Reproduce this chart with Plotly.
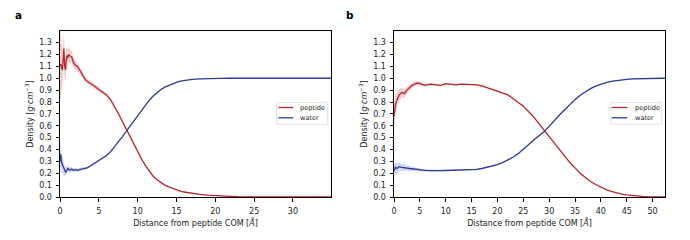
import numpy as np
import plotly.graph_objects as go
from plotly.subplots import make_subplots

# ---------- Panel a data ----------
xa = [0.0, 0.1, 0.2, 0.3, 0.4, 0.5, 0.6, 0.7, 0.8, 0.9, 1.0, 1.1, 1.25, 1.5, 1.75, 2.0, 2.25, 2.5, 2.75,
      3.0, 3.25, 3.5, 4.0, 4.5, 5.0, 5.5, 6.0, 6.5, 7.0, 7.5, 8.0, 8.5, 9.0, 9.5, 10.0, 10.5, 11.0, 11.5,
      12.0, 12.5, 13.0, 13.5, 14.0, 14.5, 15.0, 15.5, 16.0, 17.0, 18.0, 19.0, 20.0, 21.0, 22.0, 23.0,
      24.0, 25.0, 26.0, 27.0, 28.0, 29.0, 30.0, 31.0, 32.0, 33.0, 34.0, 35.0]
pep_a = [1.10, 1.12, 1.09, 1.07, 1.15, 1.25, 1.10, 1.07, 1.15, 1.19, 1.17, 1.20, 1.19, 1.18, 1.13, 1.11,
         1.10, 1.07, 1.04, 1.02, 0.99, 0.975, 0.955, 0.93, 0.905, 0.885, 0.86, 0.82, 0.765, 0.705, 0.64,
         0.575, 0.51, 0.445, 0.38, 0.32, 0.265, 0.215, 0.175, 0.145, 0.12, 0.10, 0.085, 0.072, 0.06, 0.05,
         0.042, 0.03, 0.022, 0.015, 0.010, 0.007, 0.005, 0.003, 0.002, 0.001, 0.001, 0.0, 0.0, 0.0, 0.0,
         0.0, 0.0, 0.0, 0.0, 0.0]
pep_a_err = [0.30, 0.26, 0.22, 0.18, 0.15, 0.13, 0.11, 0.10, 0.09, 0.08, 0.07, 0.065, 0.06, 0.05, 0.045,
             0.04, 0.035, 0.03, 0.028, 0.025, 0.022, 0.02, 0.02, 0.018, 0.016, 0.015, 0.014, 0.013, 0.012,
             0.011, 0.01, 0.01, 0.009, 0.008, 0.008, 0.007, 0.006, 0.005, 0.005, 0.004, 0.004, 0.003,
             0.003, 0.003, 0.002, 0.002, 0.002, 0.002, 0.001, 0.001, 0.001, 0.001, 0.001, 0.0, 0.0, 0.0,
             0.0, 0.0, 0.0, 0.0, 0.0, 0.0, 0.0, 0.0, 0.0, 0.0]
wat_a = [0.30, 0.36, 0.29, 0.27, 0.26, 0.235, 0.22, 0.21, 0.215, 0.23, 0.24, 0.235, 0.225, 0.235, 0.225,
         0.23, 0.225, 0.23, 0.235, 0.24, 0.24, 0.245, 0.265, 0.285, 0.305, 0.325, 0.35, 0.38, 0.42, 0.465,
         0.505, 0.55, 0.595, 0.64, 0.685, 0.73, 0.775, 0.815, 0.85, 0.88, 0.905, 0.925, 0.94, 0.955, 0.965,
         0.975, 0.982, 0.99, 0.995, 0.998, 1.0, 1.0, 1.001, 1.0, 1.0, 1.002, 1.0, 1.0, 1.001, 1.0, 1.0,
         1.001, 1.0, 1.0, 1.0, 1.0]
wat_a_err = [0.10, 0.09, 0.08, 0.07, 0.06, 0.05, 0.045, 0.04, 0.035, 0.03, 0.028, 0.025, 0.022, 0.02,
             0.018, 0.016, 0.015, 0.014, 0.013, 0.012, 0.011, 0.01, 0.01, 0.009, 0.009, 0.008, 0.008,
             0.008, 0.007, 0.007, 0.007, 0.006, 0.006, 0.006, 0.005, 0.005, 0.005, 0.005, 0.004, 0.004,
             0.004, 0.004, 0.004, 0.004, 0.004, 0.004, 0.004, 0.004, 0.004, 0.004, 0.004, 0.004, 0.004,
             0.004, 0.004, 0.004, 0.004, 0.004, 0.004, 0.004, 0.004, 0.004, 0.004, 0.004, 0.004, 0.004]

# ---------- Panel b data ----------
xb = [0.0, 0.3, 0.6, 1.0, 1.5, 2.0, 2.5, 3.0, 3.5, 4.0, 4.5, 5.0, 6.0, 7.0, 8.0, 9.0, 10.0, 11.0, 12.0,
      13.0, 14.0, 15.0, 16.0, 17.0, 18.0, 19.0, 20.0, 21.0, 22.0, 23.0, 24.0, 25.0, 26.0, 27.0, 28.0,
      29.0, 30.0, 31.0, 32.0, 33.0, 34.0, 35.0, 36.0, 37.0, 38.0, 39.0, 40.0, 41.0, 42.0, 43.0, 44.0,
      45.0, 46.0, 47.0, 48.0, 49.0, 50.0, 51.0, 52.0, 52.4]
pep_b = [0.68, 0.78, 0.82, 0.86, 0.88, 0.87, 0.90, 0.92, 0.94, 0.95, 0.96, 0.955, 0.94, 0.95, 0.945,
         0.94, 0.955, 0.95, 0.945, 0.95, 0.95, 0.95, 0.945, 0.935, 0.92, 0.91, 0.895, 0.88, 0.86, 0.83,
         0.80, 0.765, 0.72, 0.675, 0.62, 0.565, 0.51, 0.45, 0.39, 0.34, 0.29, 0.245, 0.20, 0.165, 0.13,
         0.105, 0.08, 0.062, 0.047, 0.035, 0.025, 0.018, 0.012, 0.008, 0.005, 0.003, 0.002, 0.001, 0.0,
         0.0]
pep_b_err = [0.10, 0.08, 0.06, 0.05, 0.04, 0.035, 0.03, 0.025, 0.022, 0.02, 0.018, 0.016, 0.012, 0.01,
             0.009, 0.008, 0.007, 0.007, 0.006, 0.006, 0.006, 0.006, 0.006, 0.006, 0.006, 0.006, 0.006,
             0.006, 0.006, 0.006, 0.006, 0.006, 0.006, 0.006, 0.006, 0.006, 0.006, 0.006, 0.005, 0.005,
             0.005, 0.005, 0.004, 0.004, 0.004, 0.003, 0.003, 0.003, 0.002, 0.002, 0.002, 0.001, 0.001,
             0.001, 0.001, 0.0, 0.0, 0.0, 0.0, 0.0]
wat_b = [0.22, 0.25, 0.24, 0.255, 0.25, 0.245, 0.245, 0.24, 0.238, 0.235, 0.23, 0.225, 0.225, 0.222,
         0.22, 0.222, 0.223, 0.225, 0.226, 0.227, 0.228, 0.229, 0.232, 0.24, 0.25, 0.26, 0.272, 0.29, 0.31,
         0.335, 0.365, 0.40, 0.44, 0.48, 0.515, 0.55, 0.595, 0.645, 0.69, 0.735, 0.78, 0.82, 0.857, 0.888,
         0.913, 0.934, 0.951, 0.964, 0.974, 0.981, 0.987, 0.991, 0.994, 0.996, 0.998, 0.999, 1.0, 1.0,
         1.0, 1.0]
wat_b_err = [0.05, 0.045, 0.04, 0.035, 0.03, 0.027, 0.024, 0.02, 0.018, 0.016, 0.014, 0.012, 0.01, 0.009,
             0.008, 0.007, 0.006, 0.006, 0.005, 0.005, 0.005, 0.005, 0.005, 0.005, 0.005, 0.005, 0.005,
             0.005, 0.005, 0.005, 0.005, 0.005, 0.005, 0.005, 0.005, 0.005, 0.005, 0.005, 0.005, 0.005,
             0.005, 0.005, 0.004, 0.004, 0.004, 0.004, 0.004, 0.004, 0.004, 0.004, 0.004, 0.004, 0.004,
             0.004, 0.004, 0.004, 0.004, 0.004, 0.004, 0.004]

y_ticks = [0.0, 0.1, 0.2, 0.3, 0.4, 0.5, 0.6, 0.7, 0.8, 0.9, 1.0, 1.1, 1.2, 1.3]
xa_ticks = [0, 5, 10, 15, 20, 25, 30]
xb_ticks = [0, 5, 10, 15, 20, 25, 30, 35, 40, 45, 50]
series_names = ["peptide", "water"]

PEP = "#b5282e"
WAT = "#2f3d92"
PEP_FILL = "rgba(200,60,60,0.25)"
WAT_FILL = "rgba(70,90,190,0.25)"
FONT = "DejaVu Sans"
TXT = "#222222"

W, H = 690, 240
PL, PR, PT, PB = 60, 665, 31, 197   # plot-area edges in page pixels


def paper(px, py):
    return (px - PL) / (PR - PL), (PB - py) / (PB - PT)


fig = make_subplots(rows=1, cols=2, horizontal_spacing=(394 - 331) / (PR - PL))


def add_series(x, y, e, col, color, fill, name):
    x = np.asarray(x); y = np.asarray(y); e = np.asarray(e)
    fig.add_trace(go.Scatter(x=np.concatenate([x, x[::-1]]),
                             y=np.concatenate([y + e, (y - e)[::-1]]),
                             fill="toself", fillcolor=fill, line=dict(width=0),
                             mode="lines", hoverinfo="skip", showlegend=False),
                  row=1, col=col)
    fig.add_trace(go.Scatter(x=x, y=y, mode="lines", name=name, showlegend=False,
                             line=dict(color=color, width=1.3)),
                  row=1, col=col)


add_series(xa, pep_a, pep_a_err, 1, PEP, PEP_FILL, series_names[0])
add_series(xa, wat_a, wat_a_err, 1, WAT, WAT_FILL, series_names[1])
add_series(xb, pep_b, pep_b_err, 2, PEP, PEP_FILL, series_names[0])
add_series(xb, wat_b, wat_b_err, 2, WAT, WAT_FILL, series_names[1])

axis_common = dict(showline=True, linecolor="black", linewidth=1, mirror=True,
                   ticks="outside", ticklen=3.5, tickwidth=0.8, tickcolor="black",
                   showgrid=False, zeroline=False,
                   tickfont=dict(family=FONT, size=8, color=TXT))

xtitle = "Distance from peptide COM [<i>Å</i>]"
ytitle = "Density [<i>g</i>·<i>cm</i><sup>−3</sup>]"
tfont = dict(family=FONT, size=8, color=TXT)

fig.update_xaxes(**axis_common)
fig.update_yaxes(**axis_common)
fig.update_xaxes(range=[0, 34.9], tickvals=xa_ticks, row=1, col=1, ticklabelstandoff=3,
                 title=dict(text=xtitle, font=tfont, standoff=5))
fig.update_xaxes(range=[0, 52.4], tickvals=xb_ticks, row=1, col=2, ticklabelstandoff=3,
                 title=dict(text=xtitle, font=tfont, standoff=5))
for c in (1, 2):
    fig.update_yaxes(range=[0, 1.398], tickvals=y_ticks, tickformat=".1f", row=1, col=c,
                     ticklabelstandoff=2,
                     title=dict(text=ytitle, font=tfont, standoff=4))

fig.update_layout(
    width=W, height=H,
    margin=dict(l=PL, r=W - PR, t=PT, b=H - PB),
    plot_bgcolor="white", paper_bgcolor="white",
    font=dict(family=FONT, size=8, color=TXT),
    showlegend=False,
)

# panel labels
for lab, px, py in (("a", 18.5, 14.5), ("b", 350, 15)):
    x, y = paper(px, py)
    fig.add_annotation(text="<b>%s</b>" % lab, x=x, y=y, xref="paper", yref="paper",
                       showarrow=False, font=dict(family=FONT, size=10.5, color="black"),
                       xanchor="center", yanchor="middle")

# legends (boxes drawn like matplotlib's)
for box_l, box_r, h_l, h_r, t_l in ((276.7, 327.7, 278.3, 293.3, 298.3),
                                    (610.7, 661.7, 611.7, 627.3, 632.7)):
    x0, y0 = paper(box_l, 124.3)
    x1, y1 = paper(box_r, 102.7)
    fig.add_shape(type="rect", xref="paper", yref="paper", x0=x0, y0=y0, x1=x1, y1=y1,
                  line=dict(color="#d9d9d9", width=0.8), fillcolor="rgba(255,255,255,0.85)",
                  layer="above")
    for name, color, py in ((series_names[0], PEP, 107.5), (series_names[1], WAT, 117.8)):
        hx0, hy = paper(h_l, py)
        hx1, _ = paper(h_r, py)
        fig.add_shape(type="line", xref="paper", yref="paper", x0=hx0, x1=hx1, y0=hy, y1=hy,
                      line=dict(color=color, width=1.3), layer="above")
        tx, _ = paper(t_l, py)
        fig.add_annotation(text=name, x=tx, y=hy, xref="paper", yref="paper", showarrow=False,
                           xanchor="left", yanchor="middle",
                           font=dict(family=FONT, size=6.6, color=TXT))

fig.write_html("out.html", config={"displayModeBar": False},
               post_script="document.body.style.margin='0';document.body.style.overflow='hidden';")
